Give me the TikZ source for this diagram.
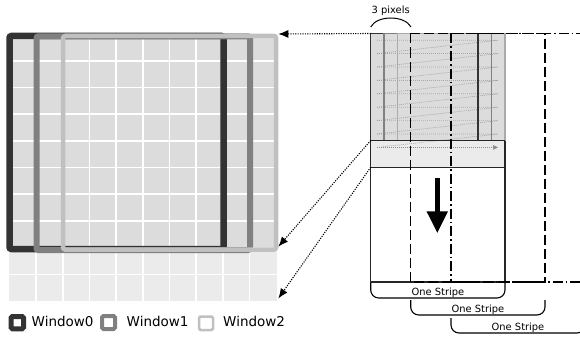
\documentclass[tikz,border=0pt]{standalone}
\usepackage{fontspec}
\setmainfont{DejaVu Sans}
\usetikzlibrary{arrows.meta}
\definecolor{wzero}{HTML}{333333}
\definecolor{wone}{HTML}{808080}
\definecolor{wtwo}{HTML}{C0C0C0}
\definecolor{wtwoline}{HTML}{AAAAAA}
\definecolor{celldark}{HTML}{DCDCDC}
\definecolor{celllight}{HTML}{EBEBEB}
\definecolor{outline}{HTML}{262626}
\definecolor{scangray}{HTML}{8C8C8C}
\begin{document}
\begin{tikzpicture}[x=1pt,y=-1pt,
  dotarrow/.style={dash pattern=on 1.1pt off 1.3pt, line width=1.1pt, -{Latex[length=10pt,width=8pt]}},
  lbl/.style={font=\fontsize{9.9}{11}\selectfont, inner sep=0pt, anchor=base},
  leg/.style={font=\fontsize{13.5}{16}\selectfont, inner sep=0pt, anchor=base west},
  bracket/.style={line width=1.1pt, rounded corners=8pt},
  scan/.style={scangray, line width=0.7pt, dash pattern=on 0.7pt off 1.3pt},
  gridline/.style={white, line width=1.6pt},
  winbig/.style={rounded corners=2pt},
  legicon/.style={fill=white, rounded corners=1.5pt}]
\useasboundingbox (0,0) rectangle (580,337);
\clip (0,0) rectangle (580,337);

% ---------- left pixel grid ----------
\fill[celldark] (9.3,34) rectangle (277.3,247.7);
\fill[celllight] (9.3,247.7) rectangle (277.3,301);
\foreach \i in {1,...,9} {
  \draw[gridline] ({9.3+26.7*\i},34) -- ({9.3+26.7*\i},301);
  \draw[gridline] (9.3,{34+26.7*\i}) -- (277.3,{34+26.7*\i});
}
% windows
\draw[wzero, line width=6.5pt, winbig] (9.5,36) rectangle (223.5,249);
\draw[wone, line width=6pt, winbig] (36.5,36.3) rectangle (250,250);
\draw[wtwo, line width=4.5pt, winbig] (63.2,36) rectangle (276,249.5);

\coordinate (gtop) at (278.3,34);
\coordinate (gmid) at (278.3,246.7);
\coordinate (gbot) at (278.3,298.5);

% ---------- stripe ----------
\fill[celldark] (370.7,33.5) rectangle (505,140.5);
\fill[celllight] (370.7,140.5) rectangle (505,167.3);
\foreach \k in {0,...,7} {
  \draw[scan] (377,{40.2+13.4*\k}) -- (498,{40.2+13.4*\k}) -- (377,{53.6+13.4*\k});
}
\coordinate (scanA) at (377,147.4);
\coordinate (scanB) at (498,147.4);
\draw[scan, -{Triangle[length=5pt,width=4.5pt]}] (scanA) -- (scanB);

\draw[outline, line width=1.3pt] (370.7,33.5) rectangle (505,282);
\draw[wzero, line width=1.3pt] (370.7,33.5) rectangle (478,140.5);
\draw[wone, line width=1.3pt] (384,33.5) rectangle (491.4,140.5);
\draw[wtwoline, line width=1.3pt] (397.4,33.5) rectangle (505,140.5);
\coordinate (sTL) at (370.7,33.5);
\coordinate (sGL) at (370.7,140.5);
\coordinate (sGR) at (505,140.5);
\coordinate (sLL) at (370.7,167.3);
\coordinate (sLR) at (505,167.3);
\draw[outline, line width=1.3pt] (sGL) -- (sGR);
\draw[outline, line width=1.3pt] (sLL) -- (sLR);

% second and third stripes
\draw[black, line width=1.5pt, dash pattern=on 10pt off 4pt] (410.7,33.5) rectangle (545,282);
\draw[black, line width=1.3pt, dash pattern=on 10pt off 3pt on 1.5pt off 3pt] (451,33.5) rectangle (585,282);

% big arrow
\coordinate (bigA) at (437.3,178);
\coordinate (bigB) at (437.3,233.3);
\draw[black, line width=5pt, -{Triangle[length=22pt,width=20pt]}] (bigA) -- (bigB);

% 3 pixels
\coordinate (arcL) at (370.7,27);
\coordinate (arcR) at (411,27);
\draw[black, line width=1pt] (arcL) .. controls (377,15) and (404.5,15) .. (arcR);
\node[lbl] (pix) at (390.7,13.3) {3 pixels};

% brackets
\draw[bracket] (370.7,283) -- (370.7,298) -- (505,298) -- (505,283);
\draw[bracket] (410.7,300) -- (410.7,315) -- (545,315) -- (545,300);
\draw[bracket] (451,318) -- (451,333) -- (585,333) -- (585,318);
\node[lbl] (os1) at (437.9,295) {One Stripe};
\node[lbl] (os2) at (477.9,312) {One Stripe};
\node[lbl] (os3) at (518,330) {One Stripe};

% dotted mapping arrows
\draw[dotarrow] (sTL) -- (gtop);
\draw[dotarrow] (sGL) -- (gmid);
\draw[dotarrow] (sLL) -- (gbot);

% ---------- legend ----------
\draw[wzero, line width=5pt, legicon] (11,316.5) rectangle (23.5,328.8);
\node[leg] (l0) at (31.5,326.7) {Window0};
\draw[wone, line width=4pt, legicon] (102,316) rectangle (115,329);
\node[leg] (l1) at (126.5,326.7) {Window1};
\draw[wtwo, line width=2.5pt, legicon] (199,316.5) rectangle (213,330);
\node[leg] (l2) at (223,326.7) {Window2};
\end{tikzpicture}
\end{document}
